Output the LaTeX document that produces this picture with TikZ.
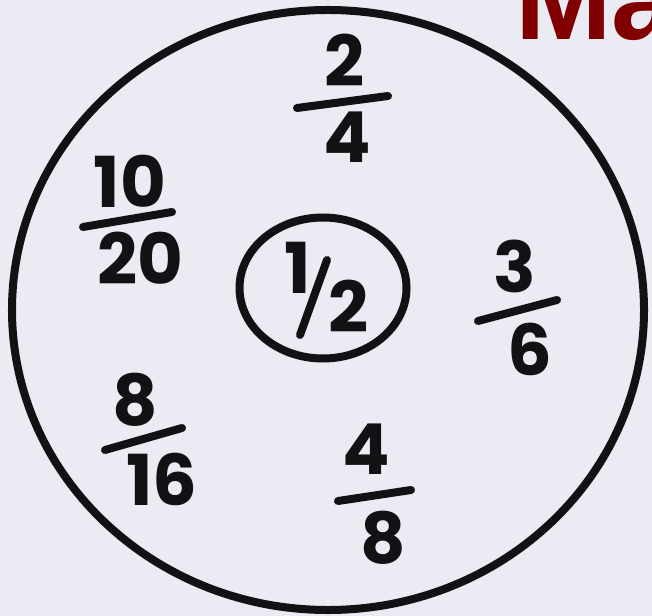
\documentclass[tikz,border=0pt]{standalone}
\usepackage{fontspec}
\usetikzlibrary{shapes.geometric}
\newfontfamily\handfont{Poppins}
\newfontfamily\titlefont{Liberation Sans}
\definecolor{paper}{RGB}{234,235,243}
\definecolor{ink}{RGB}{18,18,20}
\definecolor{maroon}{RGB}{128,0,0}
\tikzset{
  ring/.style={ellipse,draw=ink,line width=1.6mm,inner sep=0pt},
  digit/.style={font=\handfont\bfseries\fontsize{40}{40}\selectfont,text=ink,inner sep=0pt},
  bar/.style={draw=ink,line width=1.6mm,line cap=round},
  title/.style={font=\titlefont\bfseries\fontsize{66}{66}\selectfont,text=maroon,
    anchor=base west,inner sep=0pt},
}

\begin{document}
\begin{tikzpicture}[x=0.2mm,y=-0.2mm]
  \useasboundingbox (0,0) rectangle (652,616);
  \clip (0,0) rectangle (652,616);
  \fill[paper] (0,0) rectangle (652,616);
  % heading, cut by the edge
  \node[title] (head) at (515,40) {Ma};
  % the two rings
  \node[ring,minimum width=126.4mm,minimum height=120mm] (outer) at (328,310) {};
  \node[ring,minimum width=33.4mm,minimum height=28.2mm] (inner) at (323,288) {};
  % one half in the middle
  \node[digit] (half1) at (298,268) {1};
  \node[digit] (half2) at (349,306) {2};
  \draw[bar] (327,260) -- (300,335);
  % 2/4
  \node[digit] (num24) at (345,60) {2};
  \node[digit] (den24) at (347,137) {4};
  \draw[bar] (297,108) -- (388,96);
  % 10/20
  \node[digit] (num1020) at (130,181) {10};
  \node[digit] (den1020) at (140,258) {20};
  \draw[bar] (83,227) -- (172,212);
  % 3/6
  \node[digit] (num36) at (515,266) {3};
  \node[digit] (den36) at (530,349) {6};
  \draw[bar] (478,321) -- (557,300);
  % 8/16
  \node[digit] (num816) at (135,400) {8};
  \node[digit] (den816) at (162,479) {16};
  \draw[bar] (105,450) -- (182,428);
  % 4/8
  \node[digit] (num48) at (366,449) {4};
  \node[digit] (den48) at (383,538) {8};
  \draw[bar] (338,501) -- (411,490);
\end{tikzpicture}
\end{document}
